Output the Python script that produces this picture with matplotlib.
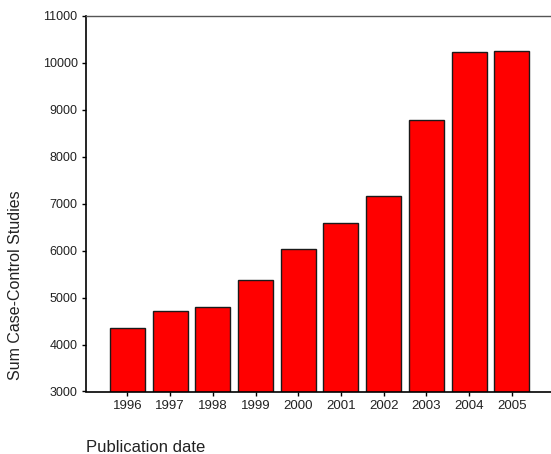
import matplotlib
matplotlib.use("Agg")
import matplotlib.pyplot as plt
import numpy as np

years = ["1996", "1997", "1998", "1999", "2000", "2001", "2002", "2003", "2004", "2005"]
values = [4345, 4720, 4790, 5380, 6040, 6580, 7170, 8790, 10230, 10250]
yticks = [3000, 4000, 5000, 6000, 7000, 8000, 9000, 10000, 11000]

plt.rcParams['font.family'] = ['Liberation Sans', 'DejaVu Sans']

fig = plt.figure(figsize=(5.51, 4.54), dpi=100)
ax = fig.add_axes([86/551, 1 - 391.5/454, (551-86)/551, (391.5-15.7)/454])

x = np.arange(len(years))
ax.bar(x, values, width=0.82, color='#FF0000', edgecolor='#1a1a1a', linewidth=1.0, zorder=2)

ax.set_ylim(3000, 11000)
ax.set_xlim(-0.97, 9.92)
ax.set_yticks(yticks)
ax.set_yticklabels([str(v) for v in yticks], fontsize=9)
ax.set_xticks(x)
ax.set_xticklabels(years, fontsize=9.5)
ax.tick_params(axis='both', direction='out', length=3, width=1, color='black', pad=3, labelcolor='#222222')

ax.spines['right'].set_visible(False)
ax.spines['top'].set_color('#555555')
ax.spines['top'].set_linewidth(1.0)
ax.spines['left'].set_linewidth(1.2)
ax.spines['bottom'].set_linewidth(1.2)

fig.text(16/551, 1 - 285/454, "Sum Case-Control Studies", rotation=90, fontsize=11.5,
         ha='center', va='center', color='#222222')
fig.text(86/551, 1 - 452.5/454, "Publication date", fontsize=12, ha='left', va='baseline', color='#222222')

fig.savefig("out.png", dpi=100)
